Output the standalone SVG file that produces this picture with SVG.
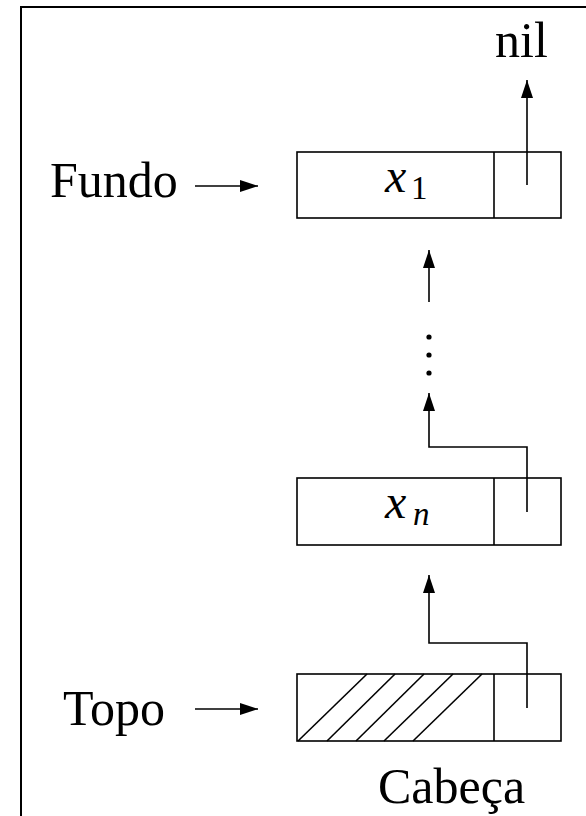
<svg xmlns="http://www.w3.org/2000/svg" width="586" height="816" viewBox="0 0 586 816">
<defs>
<style>
.ln{fill:none;stroke:#000;stroke-width:1.6}
.bx{fill:#fff;stroke:#000;stroke-width:1.6}
.t{font-family:"Liberation Serif","Times New Roman",serif;font-size:50px;fill:#000}
.m{font-family:"Liberation Serif","Times New Roman",serif;font-style:italic;font-size:48px;fill:#000}
.s{font-family:"Liberation Serif","Times New Roman",serif;font-size:33px;fill:#000}
</style>
<marker id="ah" viewBox="0 0 18 12" refX="18" refY="6" markerWidth="18" markerHeight="12" markerUnits="userSpaceOnUse" orient="auto">
<path d="M0,0 L18,6 L0,12 Z" fill="#000"/>
</marker>
</defs>
<rect x="0" y="0" width="586" height="816" fill="#fff"/>
<rect x="21" y="7" width="600" height="850" fill="none" stroke="#000" stroke-width="2"/>

<g id="nil"><text class="t" x="495" y="57">nil</text></g>

<g id="fundo"><text class="t" x="50" y="197">Fundo</text></g>
<g id="topo"><text class="t" x="63" y="725">Topo</text></g>
<g id="cabeca-label"><text class="t" x="378" y="803">Cabeça</text></g>

<g id="node-x1">
<rect class="bx" x="297" y="152" width="264" height="66"/>
<line class="ln" x1="494" y1="152" x2="494" y2="218"/>
<text class="m" x="385" y="192">x</text><text class="s" x="411" y="199">1</text>
</g>

<g id="node-xn">
<rect class="bx" x="297" y="478" width="264" height="67"/>
<line class="ln" x1="494" y1="478" x2="494" y2="545"/>
<text class="m" x="385" y="518">x</text><text class="s" x="413" y="525" font-style="italic">n</text>
</g>

<g id="node-cabeca">
<rect class="bx" x="297" y="674" width="264" height="67"/>
<line class="ln" x1="494" y1="674" x2="494" y2="741"/>
<line class="ln" x1="298" y1="741" x2="367" y2="674"/>
<line class="ln" x1="327" y1="741" x2="395" y2="674"/>
<line class="ln" x1="356" y1="741" x2="424" y2="674"/>
<line class="ln" x1="384" y1="741" x2="453" y2="674"/>
<line class="ln" x1="413" y1="741" x2="482" y2="674"/>
</g>

<g id="dots">
<circle cx="429" cy="337" r="2.6" fill="#000"/>
<circle cx="429" cy="355" r="2.6" fill="#000"/>
<circle cx="429" cy="373" r="2.6" fill="#000"/>
</g>

<g id="connectors">
<line class="ln" x1="195" y1="186" x2="258" y2="186" marker-end="url(#ah)"/>
<line class="ln" x1="195" y1="709" x2="258" y2="709" marker-end="url(#ah)"/>
<line class="ln" x1="527" y1="185" x2="527" y2="80" marker-end="url(#ah)"/>
<line class="ln" x1="429" y1="302" x2="429" y2="250" marker-end="url(#ah)"/>
<polyline class="ln" points="527,512 527,447 429,447 429,393" marker-end="url(#ah)"/>
<polyline class="ln" points="527,708 527,643 429,643 429,575" marker-end="url(#ah)"/>
</g>
</svg>
